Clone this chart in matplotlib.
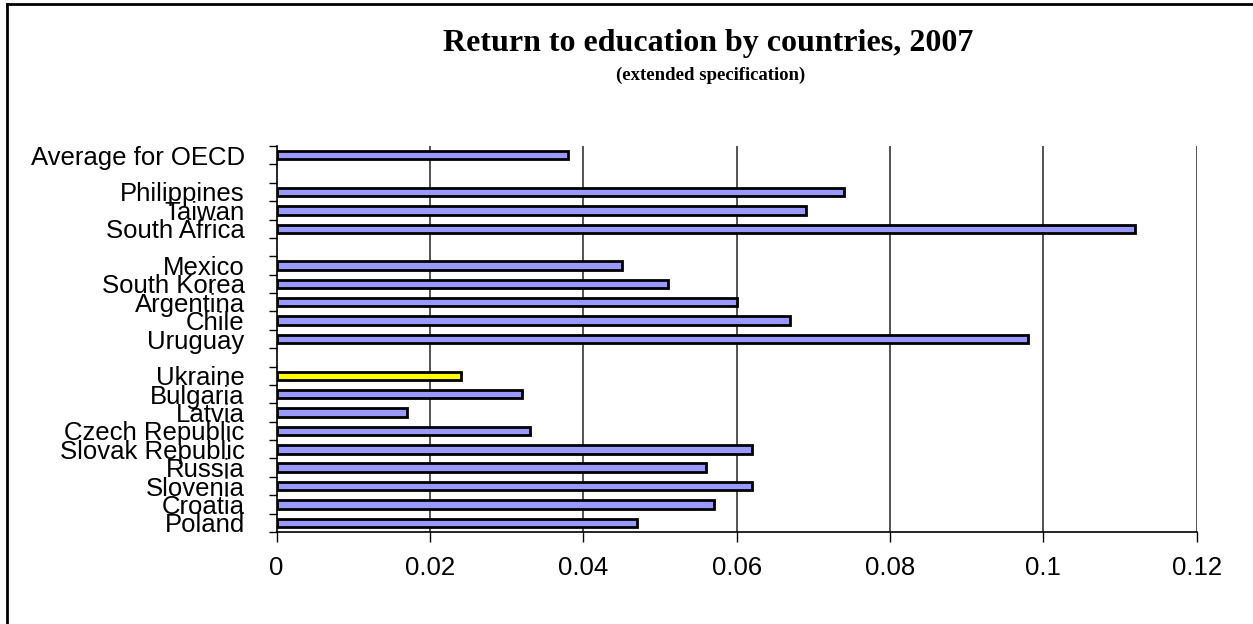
import numpy as np
import matplotlib
matplotlib.use("Agg")
import matplotlib.pyplot as plt
from matplotlib.lines import Line2D

# -------------------- DATA (top to bottom, by group) --------------------
group_oecd = ["Average for OECD"]
vals_oecd = [0.038]

group_other = ["Philippines", "Taiwan", "South Africa"]
vals_other = [0.074, 0.069, 0.112]

group_latam = ["Mexico", "South Korea", "Argentina", "Chile", "Uruguay"]
vals_latam = [0.045, 0.051, 0.060, 0.067, 0.098]

group_east = ["Ukraine", "Bulgaria", "Latvia", "Czech Republic", "Slovak Republic",
              "Russia", "Slovenia", "Croatia", "Poland"]
vals_east = [0.024, 0.032, 0.017, 0.033, 0.062, 0.056, 0.062, 0.057, 0.047]

highlight = "Ukraine"
x_ticks = [0, 0.02, 0.04, 0.06, 0.08, 0.1, 0.12]
x_ticklabels = ["0", "0.02", "0.04", "0.06", "0.08", "0.1", "0.12"]

title = "Return to education by countries, 2007"
subtitle = "(extended specification)"

# -------------------- LAYOUT --------------------
groups = [(group_oecd, vals_oecd), (group_other, vals_other),
          (group_latam, vals_latam), (group_east, vals_east)]

names, values, pos = [], [], []
n_slots = sum(len(g) for g, _ in groups) + len(groups) - 1
slot = n_slots - 1
for g, v in groups:
    for name, val in zip(g, v):
        names.append(name)
        values.append(val)
        pos.append(slot)
        slot -= 1
    slot -= 1  # empty slot between groups

colors = ["#FFFF00" if n == highlight else "#9999FF" for n in names]

fig = plt.figure(figsize=(12.53, 6.24), dpi=100)
ax = fig.add_axes([0.2208, 0.1474, 0.7342, 0.6186])

ax.barh(pos, values, height=0.46, color=colors, edgecolor="black", linewidth=2, zorder=3)

ax.set_xlim(0, 0.12)
ax.set_ylim(-0.5, n_slots - 0.5)

ax.set_xticks(x_ticks)
ax.set_xticklabels(x_ticklabels, fontsize=18.5, family="Liberation Sans")
ax.tick_params(axis="x", direction="out", length=7, width=1, pad=10, color="black")

ax.set_yticks(pos)
ax.set_yticklabels(names, fontsize=18.5, family="Liberation Sans")
ax.set_yticks(np.arange(-0.5, n_slots, 1.0), minor=True)
ax.tick_params(axis="y", which="major", length=0, pad=23)
ax.tick_params(axis="y", which="minor", direction="out", length=6, width=1, color="black")

for x in x_ticks[1:]:
    ax.axvline(x, color="#444444", linewidth=1.3, zorder=1)

for s in ["top", "right"]:
    ax.spines[s].set_visible(False)
ax.spines["left"].set_linewidth(1.2)
ax.spines["bottom"].set_linewidth(1.2)

fig.text(0.565, 0.9295, title, ha="center", va="center", fontsize=23,
         fontweight="bold", family="Liberation Serif")
fig.text(0.567, 0.879, subtitle, ha="center", va="center", fontsize=13.5,
         fontweight="bold", family="Liberation Serif")

# outer frame (right and bottom edges fall outside the picture)
fig.add_artist(Line2D([7 / 1253, 1.0], [1 - 4 / 624, 1 - 4 / 624], color="black", linewidth=2,
                      transform=fig.transFigure))
fig.add_artist(Line2D([7 / 1253, 7 / 1253], [0.0, 1 - 4 / 624], color="black", linewidth=2,
                      transform=fig.transFigure))

fig.savefig("out.png", dpi=100)
